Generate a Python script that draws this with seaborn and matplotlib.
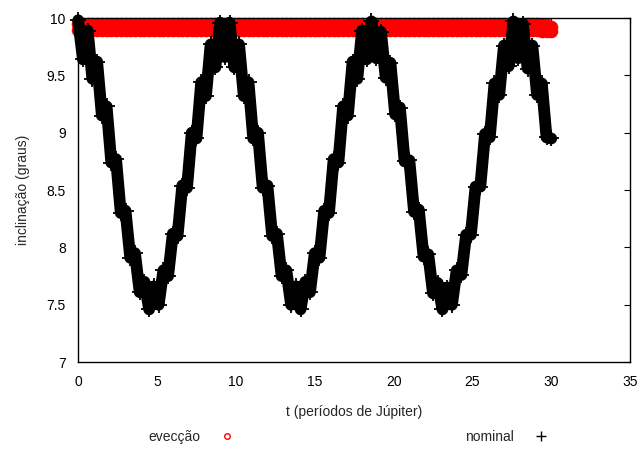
import matplotlib
matplotlib.use("Agg")
import matplotlib.pyplot as plt
from matplotlib.lines import Line2D
import seaborn as sns

# time in Jupiter periods (0 .. 30, step 0.3)
t = [
    0.0, 0.3, 0.6, 0.9, 1.2, 1.5, 1.8, 2.1, 2.4, 2.7,
    3.0, 3.3, 3.6, 3.9, 4.2, 4.5, 4.8, 5.1, 5.4, 5.7,
    6.0, 6.3, 6.6, 6.9, 7.2, 7.5, 7.8, 8.1, 8.4, 8.7,
    9.0, 9.3, 9.6, 9.9, 10.2, 10.5, 10.8, 11.1, 11.4, 11.7,
    12.0, 12.3, 12.6, 12.9, 13.2, 13.5, 13.8, 14.1, 14.4, 14.7,
    15.0, 15.3, 15.6, 15.9, 16.2, 16.5, 16.8, 17.1, 17.4, 17.7,
    18.0, 18.3, 18.6, 18.9, 19.2, 19.5, 19.8, 20.1, 20.4, 20.7,
    21.0, 21.3, 21.6, 21.9, 22.2, 22.5, 22.8, 23.1, 23.4, 23.7,
    24.0, 24.3, 24.6, 24.9, 25.2, 25.5, 25.8, 26.1, 26.4, 26.7,
    27.0, 27.3, 27.6, 27.9, 28.2, 28.5, 28.8, 29.1, 29.4, 29.7,
    30.0,
]

# inclination (degrees), "evecção" run: fast wobble inside a thin band near 9.9
evection = [
    9.945, 9.895, 9.945, 9.895, 9.945, 9.895, 9.945, 9.895, 9.945, 9.895,
    9.945, 9.895, 9.945, 9.895, 9.945, 9.895, 9.945, 9.895, 9.945, 9.895,
    9.945, 9.895, 9.945, 9.895, 9.945, 9.895, 9.945, 9.895, 9.945, 9.895,
    9.945, 9.895, 9.945, 9.895, 9.945, 9.895, 9.945, 9.895, 9.945, 9.895,
    9.945, 9.895, 9.945, 9.895, 9.945, 9.895, 9.945, 9.895, 9.945, 9.895,
    9.945, 9.895, 9.945, 9.895, 9.945, 9.895, 9.945, 9.895, 9.945, 9.895,
    9.945, 9.895, 9.945, 9.895, 9.945, 9.895, 9.945, 9.895, 9.945, 9.895,
    9.945, 9.895, 9.945, 9.895, 9.945, 9.895, 9.945, 9.895, 9.945, 9.895,
    9.945, 9.895, 9.945, 9.895, 9.945, 9.895, 9.945, 9.895, 9.945, 9.895,
    9.945, 9.895, 9.945, 9.895, 9.945, 9.895, 9.945, 9.895, 9.940, 9.890,
    9.925,
]
evection_lo = [
    9.895, 9.945, 9.895, 9.945, 9.895, 9.945, 9.895, 9.945, 9.895, 9.945,
    9.895, 9.945, 9.895, 9.945, 9.895, 9.945, 9.895, 9.945, 9.895, 9.945,
    9.895, 9.945, 9.895, 9.945, 9.895, 9.945, 9.895, 9.945, 9.895, 9.945,
    9.895, 9.945, 9.895, 9.945, 9.895, 9.945, 9.895, 9.945, 9.895, 9.945,
    9.895, 9.945, 9.895, 9.945, 9.895, 9.945, 9.895, 9.945, 9.895, 9.945,
    9.895, 9.945, 9.895, 9.945, 9.895, 9.945, 9.895, 9.945, 9.895, 9.945,
    9.895, 9.945, 9.895, 9.945, 9.895, 9.945, 9.895, 9.945, 9.895, 9.945,
    9.895, 9.945, 9.895, 9.945, 9.895, 9.945, 9.895, 9.945, 9.895, 9.945,
    9.895, 9.945, 9.895, 9.945, 9.895, 9.945, 9.895, 9.945, 9.895, 9.945,
    9.895, 9.945, 9.895, 9.945, 9.895, 9.945, 9.895, 9.945, 9.885, 9.935,
    9.885,
]

# inclination (degrees), "nominal" run
nominal = [
    9.98, 9.64, 9.89, 9.47, 9.62, 9.15, 9.23, 8.74, 8.77, 8.30,
    8.32, 7.91, 7.95, 7.61, 7.70, 7.46, 7.66, 7.50, 7.80, 7.75,
    8.12, 8.10, 8.54, 8.52, 9.00, 8.95, 9.44, 9.32, 9.77, 9.57,
    9.96, 9.66, 9.96, 9.57, 9.77, 9.32, 9.44, 8.95, 9.00, 8.52,
    8.54, 8.10, 8.12, 7.75, 7.80, 7.50, 7.66, 7.46, 7.70, 7.61,
    7.95, 7.91, 8.32, 8.30, 8.77, 8.74, 9.23, 9.15, 9.62, 9.47,
    9.89, 9.64, 9.97, 9.65, 9.88, 9.48, 9.61, 9.16, 9.22, 8.75,
    8.76, 8.31, 8.33, 7.92, 7.94, 7.60, 7.69, 7.46, 7.65, 7.50,
    7.80, 7.76, 8.11, 8.11, 8.53, 8.53, 8.99, 8.96, 9.43, 9.33,
    9.76, 9.58, 9.97, 9.65, 9.95, 9.56, 9.76, 9.33, 9.43, 8.96,
    8.95,
]

sns.set_theme(style="white")
plt.rcParams["font.family"] = ["Liberation Sans", "DejaVu Sans"]

fig = plt.figure(figsize=(6.41, 4.51), dpi=100)
ax = fig.add_axes([0.122, 0.197, 0.861, 0.763])

# evecção: overlapping filled circles form the red band
sns.scatterplot(
    x=t + t, y=evection + evection_lo, ax=ax, color="#ff0000", marker="o",
    s=95, linewidth=0, clip_on=False, legend=False,
)
# nominal: dense '+' cloud, drawn as thick line with '+' markers
sns.lineplot(
    x=t, y=nominal, ax=ax, color="black", lw=8.5, marker="+",
    markersize=11, markeredgewidth=1.3, markeredgecolor="black",
    sort=False, estimator=None, clip_on=False,
)

ax.set_xlim(0, 35)
ax.set_ylim(7, 10)
ax.set_xticks([0, 5, 10, 15, 20, 25, 30, 35])
ax.set_yticks([7, 7.5, 8, 8.5, 9, 9.5, 10])
ax.set_yticklabels(["7", "7.5", "8", "8.5", "9", "9.5", "10"])
ax.tick_params(direction="in", top=True, right=True, length=4, width=0.8,
               labelsize=10, pad=9, colors="black")
for s in ax.spines.values():
    s.set_color("black")
    s.set_linewidth(1)

ax.set_xlabel("t (períodos de Júpiter)", fontsize=10, labelpad=12)
ax.set_ylabel("inclinação (graus)", fontsize=10, labelpad=12)

handles = [
    Line2D([], [], color="red", marker="o", markersize=4, lw=0,
           markerfacecolor="none", markeredgewidth=1),
    Line2D([], [], color="black", marker="+", markersize=7, lw=0,
           markeredgewidth=1),
]
fig.legend(
    handles, ["evecção", "nominal"], loc="center",
    bbox_to_anchor=(0.545, 0.031), ncol=2, frameon=False,
    markerfirst=False, fontsize=10, handlelength=1.4,
    handletextpad=1.2, columnspacing=16.5,
)

fig.savefig("out.png", dpi=100)
